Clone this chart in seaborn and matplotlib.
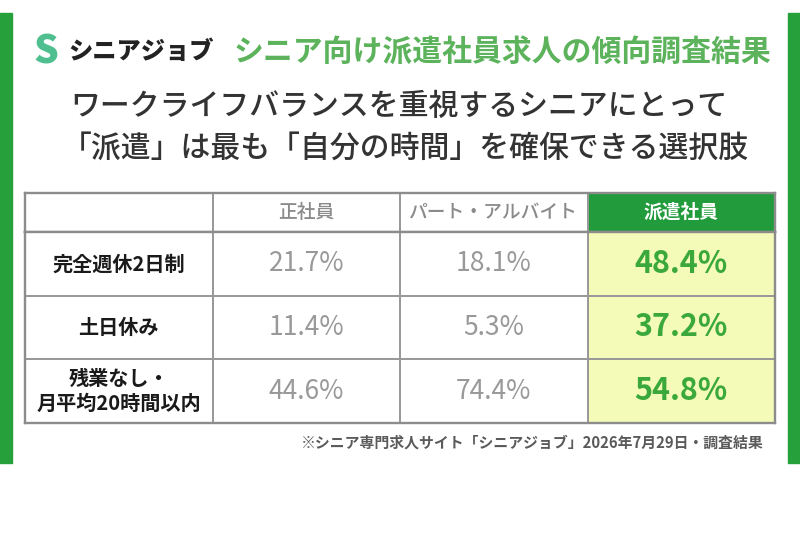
import matplotlib
matplotlib.use('Agg')
import matplotlib.pyplot as plt
import seaborn as sns
import numpy as np
from matplotlib.colors import ListedColormap
from matplotlib.patches import Rectangle

# ---- data / text ----
brand = "シニアジョブ"
title = "シニア向け派遣社員求人の傾向調査結果"
subtitle = ["ワークライフバランスを重視するシニアにとって",
            "「派遣」は最も「自分の時間」を確保できる選択肢"]
columns = ["正社員", "パート・アルバイト", "派遣社員"]
rows = ["完全週休2日制", "土日休み", "残業なし・\n月平均20時間以内"]
seishain = [21.7, 11.4, 44.6]
part_time = [18.1, 5.3, 74.4]
haken = [48.4, 37.2, 54.8]
note = "※シニア専門求人サイト「シニアジョブ」2026年7月29日・調査結果"

sns.set_theme(style="white")
plt.rcParams['font.family'] = ['Noto Sans CJK JP', 'DejaVu Sans']

W, H = 800, 533
fig = plt.figure(figsize=(8, 5.33), dpi=100)
fig.patch.set_facecolor('white')


def fx(x):
    return x / W


def fy(y):
    return 1 - y / H


# side green bars
for x0 in (0, 788):
    fig.patches.append(Rectangle((fx(x0), fy(463)), fx(12), (463 - 13) / H,
                                 transform=fig.transFigure, color='#25a03a', zorder=0))

# logo + headline
fig.text(fx(46), fy(52), "S", fontsize=28, fontweight='heavy', color='#4fbf8f',
         ha='center', va='center', fontstyle='italic')
fig.text(fx(68), fy(52), brand, fontsize=17.5, fontweight='heavy', color='#222222',
         ha='left', va='center')
fig.text(fx(234), fy(52), title, fontsize=21.5, fontweight='bold', color='#5cb35c',
         ha='left', va='center')
fig.text(fx(399), fy(107), subtitle[0], fontsize=21.5, fontweight='medium', color='#333333',
         ha='center', va='center')
fig.text(fx(405), fy(148), subtitle[1], fontsize=21.5, fontweight='medium', color='#333333',
         ha='center', va='center')

# table geometry
L, R = 25, 775
T0, T1, T2 = 193, 232, 423
grid_col = '#999999'

# header row
axh = fig.add_axes([fx(L), fy(T1), fx(R - L), (T1 - T0) / H])
head_flags = np.array([[0, 0, 0, 1]])
sns.heatmap(head_flags, cmap=ListedColormap(['white', '#229b3c']), vmin=0, vmax=1,
            cbar=False, linewidths=1.4, linecolor=grid_col,
            xticklabels=False, yticklabels=False, ax=axh)
for sp in axh.spines.values():
    sp.set_visible(True)
    sp.set_color('#8c8c8c')
    sp.set_linewidth(1.7)
for j, c in enumerate(columns):
    is_h = (j == 2)
    axh.text(j + 1.5, 0.5, c, ha='center', va='center', fontsize=13.5,
             fontweight='bold' if is_h else 'medium',
             color='white' if is_h else '#8a8a8a')

# body
axb = fig.add_axes([fx(L), fy(T2), fx(R - L), (T2 - T1) / H])
body_flags = np.array([[0, 0, 0, 1]] * len(rows))
sns.heatmap(body_flags, cmap=ListedColormap(['white', '#f4fab8']), vmin=0, vmax=1,
            cbar=False, linewidths=1.4, linecolor=grid_col,
            xticklabels=False, yticklabels=False, ax=axb)
for sp in axb.spines.values():
    sp.set_visible(True)
    sp.set_color('#8c8c8c')
    sp.set_linewidth(1.7)

series = [seishain, part_time, haken]
for i, r in enumerate(rows):
    axb.text(0.5, i + 0.5, r, ha='center', va='center', fontsize=14.5,
             fontweight='bold', color='#1a1a1a', linespacing=1.25)
    for j, s in enumerate(series):
        is_h = (j == 2)
        axb.text(j + 1.5, i + 0.5, f"{s[i]:.1f}%", ha='center', va='center',
                 fontsize=22 if is_h else 19,
                 fontweight='bold' if is_h else 'normal',
                 color='#3aa83a' if is_h else '#999999')

# footnote
fig.text(fx(764), fy(443), note, fontsize=10.7, fontweight='bold', color='#5a5a5a',
         ha='right', va='center')

fig.savefig('out.png', dpi=100, facecolor='white')
